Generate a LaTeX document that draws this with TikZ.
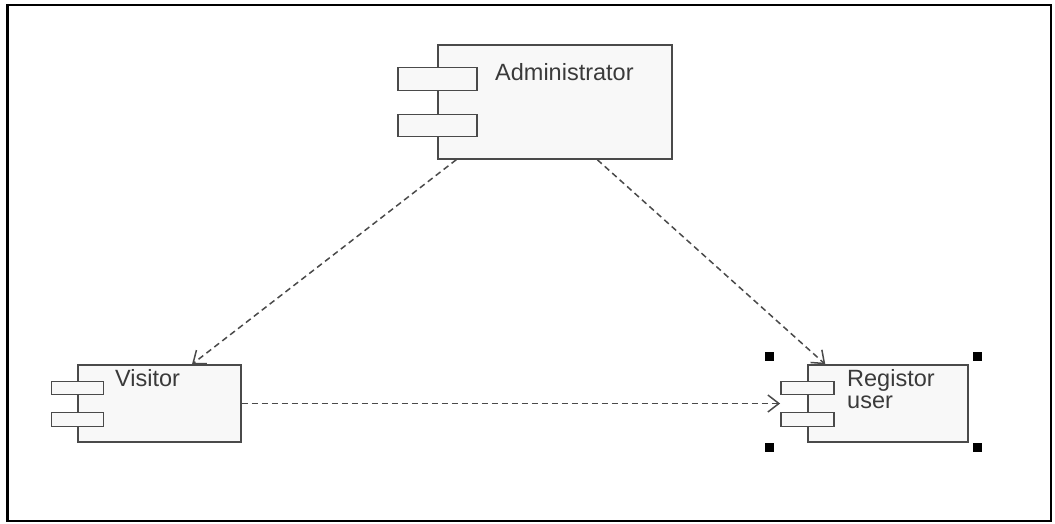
\documentclass[tikz,border=0pt]{standalone}
\usepackage{fontspec}
\setmainfont{Liberation Sans}
\usepackage{xcolor}
\usepackage{tikz}
\usetikzlibrary{arrows.meta, positioning}

\definecolor{boxline}{HTML}{4A4A4A}
\definecolor{boxfill}{HTML}{F8F8F8}
\definecolor{textgray}{HTML}{3A3A3A}

\begin{document}
\begin{tikzpicture}[x=1pt, y=-1pt,
    comp/.style={rectangle, draw=boxline, fill=boxfill, line width=1.4pt, inner sep=0pt},
    tab/.style={rectangle, draw=boxline, fill=boxfill, line width=1.4pt, inner sep=0pt},
    lbl/.style={anchor=base west, inner sep=0pt, text=textgray, font=\fontsize{23.5}{22}\selectfont, align=left},
    dep/.style={draw=boxline, line width=1.5pt, dash pattern=on 6pt off 4pt, -{Straight Barb[length=11pt, width=17pt]}},
    handle/.style={rectangle, fill=black, minimum size=9pt, inner sep=0pt}]
        \useasboundingbox (0,0) rectangle (1055,523);
        \draw[line width=2pt] (7,5) rectangle (1051,521);
        \draw[line width=3pt] (7,5) -- (7,521);

        % Define nodes
        \node (admin) [comp, minimum width=234pt, minimum height=114pt] at (555,102) {};
        \node (admintab1) [tab, minimum width=79pt, minimum height=23pt] at ([yshift=-34.5pt]admin.north west) {};
        \node (admintab2) [tab, minimum width=79pt, minimum height=22pt] at ([yshift=-81pt]admin.north west) {};
        \node (adminname) [lbl] at (495,80) {Administrator};

        \node (visitor) [comp, minimum width=163pt, minimum height=77pt] at (159.5,403.5) {};
        \node (visitab1) [tab, minimum width=52pt, minimum height=13pt] at ([yshift=-23.5pt]visitor.north west) {};
        \node (visitab2) [tab, minimum width=52pt, minimum height=14pt] at ([yshift=-55pt]visitor.north west) {};
        \node (visitorname) [lbl] at (115,386) {Visitor};

        \node (reguser) [comp, minimum width=160pt, minimum height=77pt] at (888,403.5) {};
        \node (regtab1) [tab, minimum width=53pt, minimum height=13pt] at ([yshift=-23.5pt]reguser.north west) {};
        \node (regtab2) [tab, minimum width=53pt, minimum height=14pt] at ([yshift=-55pt]reguser.north west) {};
        \node (regname) [lbl] at (847,408) {Registor\\user};

        % selection handles
        \node (handlenw) [handle] at (769,356) {};
        \node (handlene) [handle] at (977,356) {};
        \node (handlesw) [handle] at (769,447) {};
        \node (handlese) [handle] at (977,447) {};

        % Draw arrows
        \draw[dep] ([xshift=19pt]admin.south west) -- ([xshift=32.5pt]visitor.north);
        \draw[dep] ([xshift=160pt]admin.south west) -- ([xshift=18pt]reguser.north west);
        \draw[dep] (visitor.east) -- (visitor.east -| regtab1.west);
\end{tikzpicture}
\end{document}
